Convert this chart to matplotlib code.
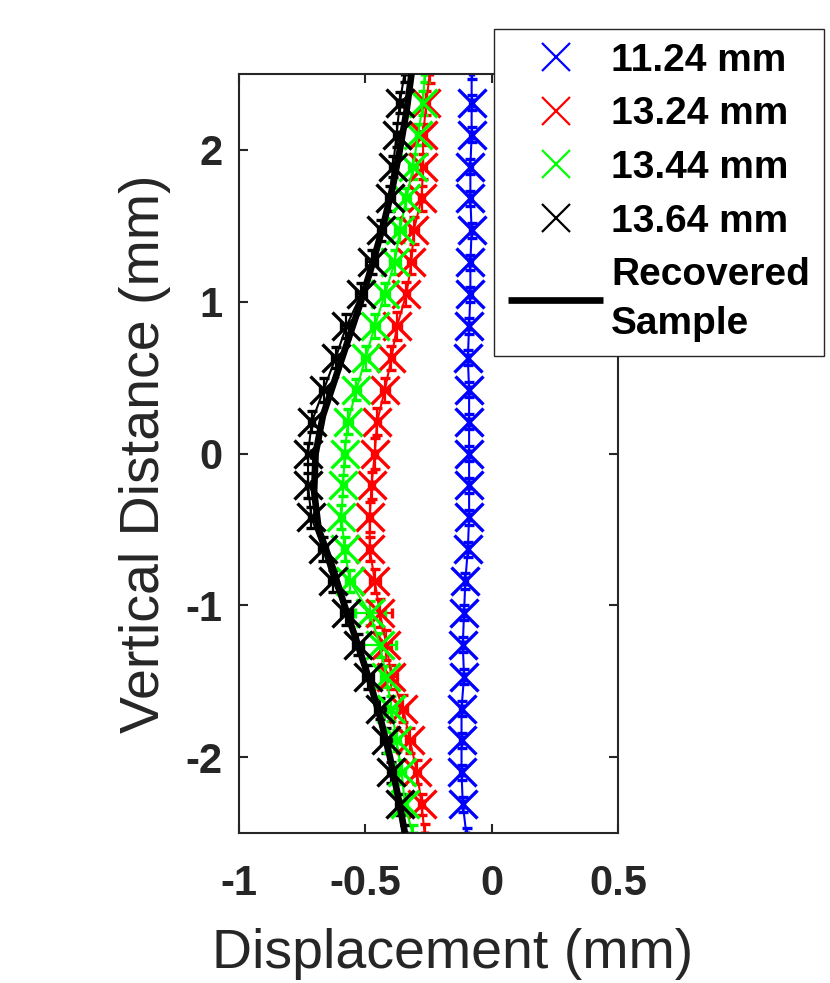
import matplotlib
matplotlib.use("Agg")
import matplotlib.pyplot as plt
from matplotlib.lines import Line2D
import numpy as np

plt.rcParams['font.family'] = ['Liberation Sans', 'DejaVu Sans']

# ---------------- data ----------------
# vertical positions of the measured points (mm); first/last lie just outside the axes
y_pts = [-2.52, -2.31, -2.10, -1.89, -1.68, -1.47, -1.26, -1.05, -0.84, -0.63, -0.42, -0.21,
         0.00, 0.21, 0.42, 0.63, 0.84, 1.05, 1.26, 1.47, 1.68, 1.89, 2.10, 2.31, 2.52]

x_1124 = [-0.100, -0.115, -0.120, -0.120, -0.120, -0.110, -0.115, -0.110, -0.105, -0.095, -0.090, -0.090,
          -0.090, -0.090, -0.090, -0.095, -0.090, -0.085, -0.085, -0.080, -0.085, -0.085, -0.080, -0.080, -0.080]
x_1324 = [-0.265, -0.278, -0.296, -0.324, -0.351, -0.397, -0.417, -0.443, -0.463, -0.483, -0.483, -0.476,
          -0.463, -0.454, -0.423, -0.397, -0.375, -0.338, -0.318, -0.309, -0.278, -0.272, -0.272, -0.259, -0.245]
x_1344 = [-0.311, -0.344, -0.357, -0.377, -0.397, -0.417, -0.443, -0.483, -0.562, -0.582, -0.595, -0.588,
          -0.582, -0.569, -0.536, -0.499, -0.463, -0.423, -0.384, -0.364, -0.338, -0.311, -0.292, -0.272, -0.265]
x_1364 = [-0.344, -0.364, -0.397, -0.417, -0.443, -0.489, -0.529, -0.575, -0.628, -0.668, -0.714, -0.727,
          -0.727, -0.712, -0.665, -0.618, -0.575, -0.516, -0.476, -0.437, -0.404, -0.391, -0.377, -0.364, -0.344]

# vertical error of each point (mm)
yerr_1124 = [0.05] * 25
yerr_1324 = [0.08, 0.07, 0.08, 0.08, 0.09, 0.08, 0.10, 0.09, 0.08, 0.08, 0.10, 0.09,
             0.10, 0.09, 0.08, 0.08, 0.09, 0.08, 0.08, 0.09, 0.08, 0.08, 0.07, 0.08, 0.08]
yerr_1344 = [0.07, 0.07, 0.08, 0.07, 0.08, 0.07, 0.08, 0.08, 0.07, 0.08, 0.08, 0.07,
             0.08, 0.08, 0.07, 0.08, 0.08, 0.07, 0.08, 0.08, 0.07, 0.08, 0.07, 0.08, 0.07]
yerr_1364 = [0.07, 0.07, 0.07, 0.08, 0.07, 0.08, 0.07, 0.08, 0.07, 0.08, 0.07, 0.08,
             0.07, 0.07, 0.08, 0.07, 0.08, 0.07, 0.08, 0.07, 0.08, 0.07, 0.08, 0.07, 0.07]
# horizontal error of each point (mm)
xerr_1124 = [0.005] * 25
xerr_1324 = [0.01, 0.01, 0.01, 0.015, 0.015, 0.02, 0.02, 0.05, 0.02, 0.01, 0.01, 0.01,
             0.01, 0.01, 0.015, 0.01, 0.015, 0.01, 0.015, 0.015, 0.01, 0.01, 0.01, 0.01, 0.01]
xerr_1344 = [0.01, 0.01, 0.015, 0.015, 0.02, 0.02, 0.065, 0.06, 0.015, 0.01, 0.01, 0.01,
             0.01, 0.015, 0.015, 0.015, 0.015, 0.015, 0.02, 0.02, 0.015, 0.015, 0.01, 0.01, 0.01]
xerr_1364 = [0.01, 0.015, 0.015, 0.02, 0.02, 0.02, 0.02, 0.02, 0.015, 0.015, 0.01, 0.01,
             0.01, 0.01, 0.015, 0.015, 0.02, 0.02, 0.02, 0.015, 0.015, 0.01, 0.01, 0.01, 0.01]

# recovered sample profile
y_rec = [-2.5, -2.25, -2.0, -1.75, -1.5, -1.25, -1.0, -0.75, -0.5, -0.25, 0.0,
         0.25, 0.5, 0.75, 1.0, 1.25, 1.5, 1.75, 2.0, 2.25, 2.5]
x_rec = [-0.344, -0.372, -0.403, -0.440, -0.483, -0.532, -0.583, -0.630, -0.685, -0.703, -0.697,
         -0.668, -0.618, -0.568, -0.518, -0.472, -0.430, -0.393, -0.364, -0.338, -0.318]

labels = ['11.24 mm', '13.24 mm', '13.44 mm', '13.64 mm']
colors = ['#0000ff', '#ff0000', '#00ff00', '#000000']
series_x = [x_1124, x_1324, x_1344, x_1364]
series_xerr = [xerr_1124, xerr_1324, xerr_1344, xerr_1364]
series_yerr = [yerr_1124, yerr_1324, yerr_1344, yerr_1364]

# ---------------- figure ----------------
W, H = 830, 983
fig = plt.figure(figsize=(W / 100, H / 100), dpi=100)
ax = fig.add_axes([239 / W, 1 - 833 / H, (618.3 - 239) / W, (833 - 74) / H])

for xs, xe, ye, c in zip(series_x, series_xerr, series_yerr, colors):
    ax.errorbar(xs, y_pts, xerr=xe, yerr=ye, color=c, ecolor=c, lw=1.5,
                elinewidth=1.6, capsize=3.5, capthick=1.6,
                marker='x', markersize=20.5, markeredgewidth=2.4,
                markevery=slice(1, len(y_pts) - 1), zorder=2)

ax.plot(x_rec, y_rec, color='black', lw=4.8, solid_capstyle='butt', zorder=3)

ax.set_xlim(-1, 0.5)
ax.set_ylim(-2.5, 2.5)
ax.set_xticks([-1, -0.5, 0, 0.5])
ax.set_xticklabels(['-1', '-0.5', '0', '0.5'])
ax.set_yticks([-2, -1, 0, 1, 2])
ax.set_yticklabels(['-2', '-1', '0', '1', '2'])

dark = '#262626'
for sp in ax.spines.values():
    sp.set_color(dark)
    sp.set_linewidth(1.5)
ax.tick_params(direction='in', length=6.5, width=1.5, color=dark,
               top=True, right=True, labelcolor=dark, labelsize=30)
ax.tick_params(axis='x', pad=22)
ax.tick_params(axis='y', pad=12)
for lab in ax.get_xticklabels() + ax.get_yticklabels():
    lab.set_fontweight('bold')

ax.set_xlabel('Displacement (mm)', fontsize=40, color=dark)
ax.xaxis.set_label_coords(0.564, -0.125)
ax.xaxis.label.set_va('top')
ax.set_ylabel('Vertical Distance (mm)', fontsize=40, color=dark, labelpad=10)

handles = [Line2D([], [], linestyle='none', marker='x', markersize=20,
                  markeredgewidth=1.6, color=c) for c in colors]
handles.append(Line2D([], [], color='black', lw=4.8, solid_capstyle='butt'))
leg = fig.legend(handles, labels + ['Recovered\nSample'],
                 loc='upper left', bbox_to_anchor=(494 / W, 1 - 29 / H),
                 bbox_transform=fig.transFigure, borderaxespad=0,
                 prop={'family': ['Liberation Sans', 'DejaVu Sans'], 'weight': 'bold', 'size': 28.0},
                 handlelength=2.45, handletextpad=0.2, borderpad=0.36, labelspacing=0.45,
                 frameon=True, fancybox=False, framealpha=1, edgecolor=dark)
leg.get_frame().set_linewidth(1.0)
leg.get_texts()[-1].set_linespacing(1.45)

fig.savefig('out.png', dpi=100, facecolor='white')
